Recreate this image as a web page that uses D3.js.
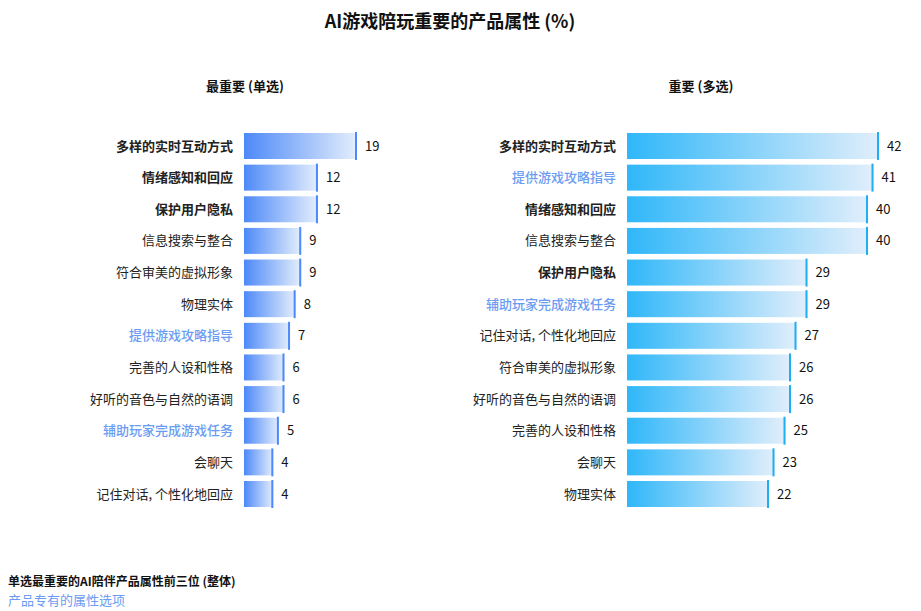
<!DOCTYPE html>
<html>
<head>
<meta charset="utf-8">
<script src="https://cdn.jsdelivr.net/npm/d3@7"></script>
<style>
body { margin: 0; background: #fff; font-family: "Noto Sans CJK SC", "Noto Sans", sans-serif; }
</style>
</head>
<body>
<div id="vis_container"></div>
<script>
var single_labels = ["多样的实时互动方式", "情绪感知和回应", "保护用户隐私", "信息搜索与整合", "符合审美的虚拟形象", "物理实体", "提供游戏攻略指导", "完善的人设和性格", "好听的音色与自然的语调", "辅助玩家完成游戏任务", "会聊天", "记住对话, 个性化地回应"];
var single_values = [19, 12, 12, 9, 9, 8, 7, 6, 6, 5, 4, 4];

var multi_labels = ["多样的实时互动方式", "提供游戏攻略指导", "情绪感知和回应", "信息搜索与整合", "保护用户隐私", "辅助玩家完成游戏任务", "记住对话, 个性化地回应", "符合审美的虚拟形象", "好听的音色与自然的语调", "完善的人设和性格", "会聊天", "物理实体"];
var multi_values = [42, 41, 40, 40, 29, 29, 27, 26, 26, 25, 23, 22];

// top three single-choice picks are bold, game-only options are blue
var top_three = ["多样的实时互动方式", "情绪感知和回应", "保护用户隐私"];
var game_only = ["提供游戏攻略指导", "辅助玩家完成游戏任务"];

var width = 921, height = 611;

var svg = d3.select("#vis_container").append("svg")
    .attr("width", width)
    .attr("height", height);

var defs = svg.append("defs");
function addGrad(id, c0, c1) {
    var g = defs.append("linearGradient").attr("id", id)
        .attr("x1", "0%").attr("x2", "100%").attr("y1", "0%").attr("y2", "0%");
    g.append("stop").attr("offset", "0%").attr("stop-color", c0);
    g.append("stop").attr("offset", "100%").attr("stop-color", c1);
}
addGrad("gradBlue", "#4d89f8", "#e4eefc");
addGrad("gradCyan", "#2fb7f9", "#e1eefb");

svg.append("text")
    .attr("x", 450).attr("y", 28)
    .attr("text-anchor", "middle")
    .style("font-size", "18px").style("font-weight", 700).style("fill", "#111")
    .text("AI游戏陪玩重要的产品属性 (%)");

var y = d3.scaleBand()
    .domain(d3.range(12))
    .range([133, 507])
    .paddingInner(0.178)
    .paddingOuter(0);

function drawPanel(opts) {
    var g = svg.append("g");
    var x = d3.scaleLinear().domain([0, opts.max]).range([opts.x0 + opts.off, opts.x0 + opts.len]);

    g.append("text")
        .attr("x", opts.titleX).attr("y", 91)
        .attr("text-anchor", "middle")
        .style("font-size", "13px").style("font-weight", 600).style("fill", "#111")
        .text(opts.title);

    var rows = g.selectAll(".row").data(opts.values).enter().append("g").attr("class", "row");

    rows.append("rect")
        .attr("x", opts.x0)
        .attr("y", function(d, i) { return y(i); })
        .attr("width", function(d) { return x(d) - opts.x0; })
        .attr("height", y.bandwidth())
        .style("fill", "url(#" + opts.grad + ")");

    rows.append("rect")
        .attr("x", function(d) { return x(d) - 2; })
        .attr("y", function(d, i) { return y(i) - 1; })
        .attr("width", 2)
        .attr("height", y.bandwidth() + 2)
        .style("fill", opts.edge);

    rows.append("text")
        .attr("x", function(d) { return x(d) + 8; })
        .attr("y", function(d, i) { return y(i) + y.bandwidth() / 2; })
        .attr("dy", "0.35em")
        .style("font-size", "13px").style("fill", "#111")
        .text(function(d) { return d; });

    rows.append("text")
        .attr("x", opts.x0 - 11)
        .attr("y", function(d, i) { return y(i) + y.bandwidth() / 2; })
        .attr("dy", "0.35em")
        .attr("text-anchor", "end")
        .style("font-size", "13px")
        .style("font-weight", function(d, i) {
            var l = opts.labels[i];
            return top_three.indexOf(l) >= 0 ? 700 : (game_only.indexOf(l) >= 0 ? 500 : 400);
        })
        .style("fill", function(d, i) { return game_only.indexOf(opts.labels[i]) >= 0 ? "#6b9cf2" : "#222"; })
        .text(function(d, i) { return opts.labels[i]; });
}

drawPanel({ title: "最重要 (单选)", titleX: 245, x0: 244, off: 7, len: 113, max: 19,
    values: single_values, labels: single_labels, grad: "gradBlue", edge: "#4d89f8" });
drawPanel({ title: "重要 (多选)", titleX: 701, x0: 627, off: 21, len: 252, max: 42,
    values: multi_values, labels: multi_labels, grad: "gradCyan", edge: "#1eaef2" });

svg.append("text")
    .attr("x", 8).attr("y", 586)
    .style("font-size", "12px").style("font-weight", 600).style("fill", "#111")
    .text("单选最重要的AI陪伴产品属性前三位 (整体)");
svg.append("text")
    .attr("x", 8).attr("y", 605)
    .style("font-size", "13px").style("fill", "#6b9cf2")
    .text("产品专有的属性选项");
</script>
</body>
</html>
